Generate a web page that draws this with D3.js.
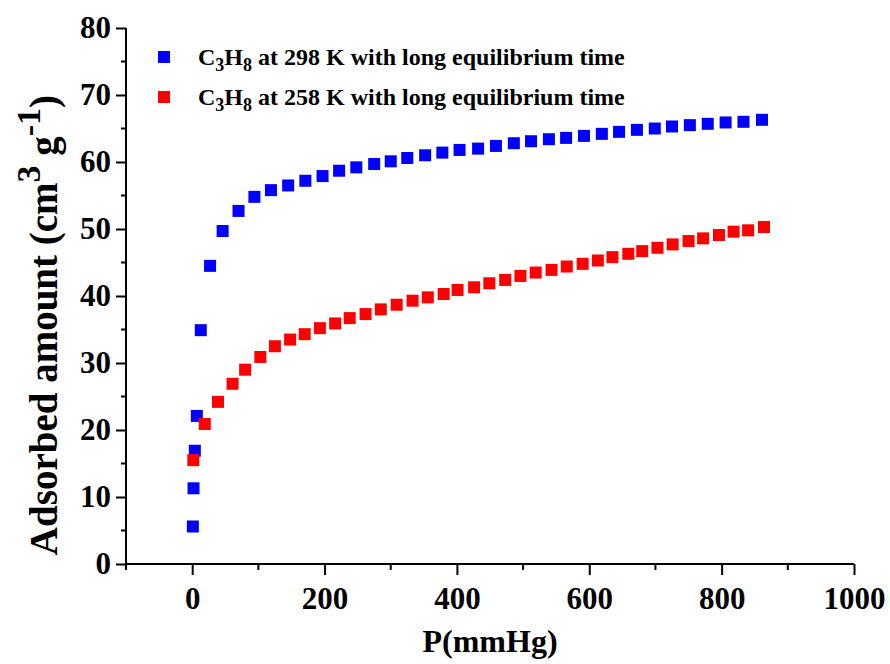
<!DOCTYPE html>
<html>
<head>
<meta charset="utf-8">
<script src="https://cdn.jsdelivr.net/npm/d3@7"></script>
<style>
  html, body { margin: 0; padding: 0; background: #fff; }
  svg { display: block; }
  text { font-family: "Liberation Serif", "Times New Roman", serif; font-weight: bold; fill: #000; }
</style>
</head>
<body>
<svg id="chart" width="890" height="664"></svg>
<script>
// ---- Data ----
const pressure298 = [1, 2, 4, 7, 13, 27, 46, 70, 94, 119, 145, 171, 197, 222, 248, 275, 300, 325, 352, 378, 404, 432, 459, 486, 512, 539, 565, 592, 619, 645, 672, 699, 725, 752, 779, 806, 833, 861];
const amount298 = [5.6, 11.3, 16.9, 22.1, 34.9, 44.5, 49.7, 52.7, 54.8, 55.8, 56.5, 57.2, 57.9, 58.7, 59.2, 59.7, 60.1, 60.6, 61.0, 61.4, 61.8, 62.0, 62.4, 62.8, 63.1, 63.4, 63.6, 63.9, 64.2, 64.5, 64.8, 65.0, 65.3, 65.5, 65.7, 65.9, 66.0, 66.3];
const pressure258 = [1.7, 19, 39, 61, 80, 103, 125, 148, 170, 193, 216, 238, 262, 285, 309, 333, 356, 380, 401, 426, 449, 473, 496, 519, 543, 566, 590, 613, 635, 659, 680, 703, 726, 750, 772, 796, 818, 840, 864];
const amount258 = [15.5, 20.9, 24.2, 26.9, 29.0, 30.9, 32.5, 33.5, 34.3, 35.2, 35.9, 36.7, 37.3, 38.0, 38.7, 39.3, 39.8, 40.3, 40.9, 41.3, 41.9, 42.4, 43.0, 43.5, 43.9, 44.4, 44.8, 45.3, 45.8, 46.3, 46.7, 47.2, 47.7, 48.2, 48.6, 49.1, 49.6, 49.8, 50.3];
const xTickValues = [0, 200, 400, 600, 800, 1000];
const xMinorTicks = [-100, 100, 300, 500, 700, 900];
const yTickValues = [0, 10, 20, 30, 40, 50, 60, 70, 80];
const yMinorTicks = [5, 15, 25, 35, 45, 55, 65, 75];
const seriesNames = ["298 K", "258 K"];
const seriesColors = ["#0000ff", "#ff0000"];

// ---- Layout ----
const svg = d3.select("#chart");
const x = d3.scaleLinear().domain([-100, 1000]).range([126, 854]);
const y = d3.scaleLinear().domain([0, 80]).range([564, 28]);

const axisW = 2;

// X axis
const gx = svg.append("g").attr("transform", `translate(0,${y(0)})`);
gx.call(d3.axisBottom(x).tickValues(xTickValues).tickSize(11).tickPadding(12).tickFormat(d3.format("d")));
gx.select(".domain").attr("d", `M${x(-100)},0H${x(1000)}`);
gx.selectAll(".minor").data(xMinorTicks).enter().append("line")
  .attr("class", "minor").attr("x1", d => x(d)).attr("x2", d => x(d)).attr("y1", 0).attr("y2", 6);

// Y axis
const gy = svg.append("g").attr("transform", `translate(${x(-100)},0)`);
gy.call(d3.axisLeft(y).tickValues(yTickValues).tickSize(10).tickPadding(5));
gy.select(".domain").attr("d", `M0,${y(0)}V${y(80)}`);
gy.selectAll(".minor").data(yMinorTicks).enter().append("line")
  .attr("class", "minor").attr("y1", d => y(d)).attr("y2", d => y(d)).attr("x1", 0).attr("x2", -5);

svg.selectAll(".domain, .tick line, .minor").attr("stroke", "#000").attr("stroke-width", axisW);
svg.selectAll(".tick text").style("font-size", "31px").attr("fill", "#000");

// ---- Markers ----
const ms = 12;
function drawSeries(px, py, color) {
  svg.append("g").selectAll("rect").data(px.map((d, i) => [d, py[i]])).enter().append("rect")
    .attr("x", d => x(d[0]) - ms / 2).attr("y", d => y(d[1]) - ms / 2)
    .attr("width", ms).attr("height", ms).attr("fill", color);
}
drawSeries(pressure298, amount298, seriesColors[0]);
drawSeries(pressure258, amount258, seriesColors[1]);

// ---- Legend ----
const legendY = [57, 97];
seriesNames.forEach((name, i) => {
  svg.append("rect").attr("x", 158).attr("y", legendY[i] - 6).attr("width", 12).attr("height", 12).attr("fill", seriesColors[i]);
  const t = svg.append("text").attr("x", 198).attr("y", legendY[i] + 8).style("font-size", "24px");
  t.append("tspan").text("C");
  t.append("tspan").attr("dy", 6).style("font-size", "18px").text("3");
  t.append("tspan").attr("dy", -6).text("H");
  t.append("tspan").attr("dy", 6).style("font-size", "18px").text("8");
  t.append("tspan").attr("dy", -6).text(" at " + name + " with long equilibrium time");
});

// ---- Axis titles ----
svg.append("text").attr("x", 490).attr("y", 652).attr("text-anchor", "middle")
  .style("font-size", "32px").text("P(mmHg)");

const yt = svg.append("text").attr("transform", `translate(57,325) rotate(-90)`)
  .attr("text-anchor", "middle").style("font-size", "39px");
yt.append("tspan").text("Adsorbed amount (cm");
yt.append("tspan").attr("dy", -17).style("font-size", "34px").text("3");
yt.append("tspan").attr("dy", 17).text(" g");
yt.append("tspan").attr("dy", -17).style("font-size", "34px").text("-1");
yt.append("tspan").attr("dy", 17).text(")");
</script>
</body>
</html>
